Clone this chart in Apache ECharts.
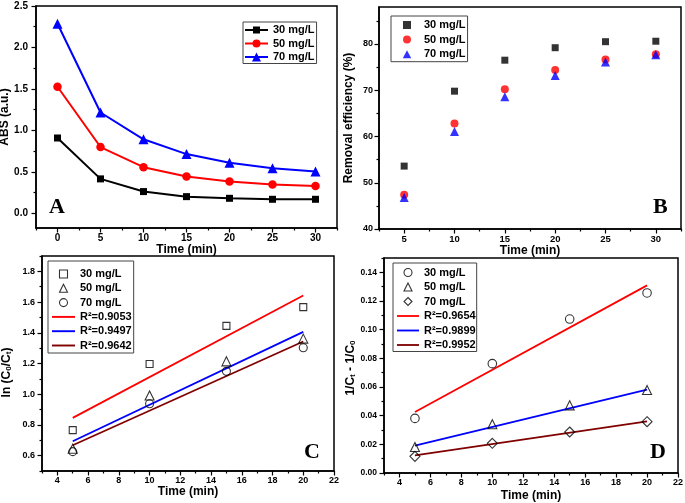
<!DOCTYPE html>
<html><head><meta charset="utf-8">
<script src="https://cdn.jsdelivr.net/npm/echarts@6/dist/echarts.min.js"></script>
<style>html,body{margin:0;padding:0;background:#fff}#c{width:685px;height:503px}</style>
</head><body><div id="c"></div>
<script>
// ---------- data ----------
const timeA = [0, 5, 10, 15, 20, 25, 30];
const absA30 = [0.909, 0.416, 0.263, 0.202, 0.182, 0.170, 0.170];
const absA50 = [1.527, 0.800, 0.557, 0.444, 0.384, 0.347, 0.331];
const absA70 = [2.286, 1.216, 0.893, 0.715, 0.610, 0.545, 0.505];

const timeB = [5, 10, 15, 20, 25, 30];
const remB30 = [53.6, 69.8, 76.5, 79.2, 80.5, 80.6];
const remB50 = [47.4, 62.8, 70.2, 74.4, 76.65, 77.8];
const remB70 = [46.8, 61.1, 68.6, 73.2, 76.1, 77.7];

const timeCD = [5, 10, 15, 20];
const lnC30 = [0.766, 1.197, 1.445, 1.567];
const lnC50 = [0.645, 0.992, 1.214, 1.362];
const lnC70 = [0.626, 0.938, 1.149, 1.303];
const fitTime = [5, 20];
const fitC30 = [0.846, 1.643];
const fitC50 = [0.694, 1.406];
const fitC70 = [0.668, 1.343];

const invD30 = [0.0381, 0.0763, 0.1074, 0.1256];
const invD50 = [0.0181, 0.0340, 0.0472, 0.0579];
const invD70 = [0.0116, 0.0207, 0.0286, 0.0358];
const fitD30 = [0.0426, 0.1309];
const fitD50 = [0.0191, 0.0581];
const fitD70 = [0.0123, 0.0360];

const concLabels = ['30 mg/L', '50 mg/L', '70 mg/L'];
const r2C = ['R²=0.9053', 'R²=0.9497', 'R²=0.9642'];
const r2D = ['R²=0.9654', 'R²=0.9899', 'R²=0.9952'];

// tick values
const tickAxMajor = [0, 5, 10, 15, 20, 25, 30];
const tickAxMinor = [-2.5, 2.5, 7.5, 12.5, 17.5, 22.5, 27.5, 32.5];
const tickAyMajor = [0, 0.5, 1.0, 1.5, 2.0, 2.5];
const tickAyMinor = [0.25, 0.75, 1.25, 1.75, 2.25];
const tickBxMajor = [5, 10, 15, 20, 25, 30];
const tickBxMinor = [2.5, 7.5, 12.5, 17.5, 22.5, 27.5, 32.5];
const tickByMajor = [40, 50, 60, 70, 80];
const tickByMinor = [45, 55, 65, 75, 85];
const tickCDxMajor = [4, 6, 8, 10, 12, 14, 16, 18, 20, 22];
const tickCDxMinor = [3, 5, 7, 9, 11, 13, 15, 17, 19, 21];
const tickCyMajor = [0.6, 0.8, 1.0, 1.2, 1.4, 1.6, 1.8];
const tickCyMinor = [0.5, 0.7, 0.9, 1.1, 1.3, 1.5, 1.7, 1.9];
const tickDyMajor = [0, 0.02, 0.04, 0.06, 0.08, 0.10, 0.12, 0.14];
const tickDyMinor = [0.01, 0.03, 0.05, 0.07, 0.09, 0.11, 0.13, 0.15];

// ---------- helpers ----------
const FONT = 'Liberation Sans, Arial, sans-serif';
const zip = (xs, ys) => xs.map((x, i) => [x, ys[i]]);

function axisPair(kind, gi, min, max, major, minor, o) {
  const main = {
    type: 'value', gridIndex: gi, min: min, max: max,
    position: kind === 'x' ? 'bottom' : 'left',
    axisLine: { show: true, onZero: false, lineStyle: { color: '#000', width: 1.5 } },
    axisTick: { show: true, customValues: major, length: o.tickLen || 4.5, lineStyle: { color: '#000', width: 1.2 } },
    axisLabel: { show: true, customValues: major, formatter: o.fmt, color: '#000', fontWeight: 'bold',
      fontSize: o.fs, fontFamily: FONT, margin: o.margin },
    splitLine: { show: false }, minorTick: { show: false },
    name: o.name, nameLocation: 'middle', nameGap: o.nameGap,
    nameTextStyle: Object.assign({ color: '#000', fontWeight: 'bold', fontSize: 12, fontFamily: FONT }, o.nameStyle || {})
  };
  const mn = {
    type: 'value', gridIndex: gi, min: min, max: max,
    position: kind === 'x' ? 'bottom' : 'left',
    axisLine: { show: false, onZero: false },
    axisTick: { show: true, customValues: minor, length: 2.5, lineStyle: { color: '#000', width: 1.2 } },
    axisLabel: { show: false }, splitLine: { show: false }
  };
  return [main, mn];
}

const grids = [
  { left: 36, top: 6, width: 301, height: 222 },
  { left: 379, top: 7, width: 302, height: 222 },
  { left: 42, top: 256, width: 292, height: 215 },
  { left: 384, top: 258, width: 294, height: 215 }
].map(g => Object.assign(g, { show: true, borderColor: '#000', borderWidth: 1.5, backgroundColor: 'transparent', outerBoundsMode: 'none', containLabel: false }));

const subRich = { sub: { fontSize: 8, fontWeight: 'bold', fontFamily: FONT, color: '#000', verticalAlign: 'bottom' } };

const xAxes = [].concat(
  axisPair('x', 0, -2.5, 32.5, tickAxMajor, tickAxMinor, { fmt: v => String(v), fs: 10, margin: 5, name: 'Time (min)', nameGap: 15 }),
  axisPair('x', 1, 2.5, 32.5, tickBxMajor, tickBxMinor, { fmt: v => String(v), fs: 9.5, margin: 5, name: 'Time (min)', nameGap: 16 }),
  axisPair('x', 2, 3, 22, tickCDxMajor, tickCDxMinor, { fmt: v => String(v), fs: 9, margin: 5, name: 'Time (min)', nameGap: 15 }),
  axisPair('x', 3, 3, 22, tickCDxMajor, tickCDxMinor, { fmt: v => String(v), fs: 9, margin: 5, name: 'Time (min)', nameGap: 17 })
);
const yAxes = [].concat(
  axisPair('y', 0, -0.176, 2.5, tickAyMajor, tickAyMinor, { fmt: v => v.toFixed(1), fs: 10, margin: 8, name: 'ABS (a.u.)', nameGap: 21 }),
  axisPair('y', 1, 40, 88, tickByMajor, tickByMinor, { fmt: v => String(v), fs: 9, margin: 6, name: 'Removal efficiency (%)', nameGap: 24 }),
  axisPair('y', 2, 0.5, 1.9, tickCyMajor, tickCyMinor, { fmt: v => v.toFixed(1), fs: 9, margin: 7, name: 'ln (C{sub|0}/C{sub|t})', nameGap: 29,
    nameStyle: { rich: subRich, padding: [0, 18, 0, 0] } }),
  axisPair('y', 3, 0, 0.15, tickDyMajor, tickDyMinor, { fmt: v => v.toFixed(2), fs: 8.5, margin: 7, name: '1/C{sub|t} - 1/C{sub|0}', nameGap: 26,
    nameStyle: { rich: subRich, padding: [0, 5, 0, 0] } })
);

// legend icon shapes (keep their aspect inside the legend item box)
const ICON = {
  lineRect: 'path://M0,4L23,4L23,6L0,6ZM8,1.5L15,1.5L15,8.5L8,8.5Z',
  lineCircle: 'path://M0,4L23,4L23,6L0,6ZM15.5,5A4,4,0,1,1,7.5,5A4,4,0,1,1,15.5,5Z',
  lineTriangle: 'path://M0,4L23,4L23,6L0,6ZM11.5,0.5L16,9.5L7,9.5Z',
  wideRect: 'path://M0,0L0,0ZM8,0L16,0L16,8L8,8ZM24,8L24,8Z',
  wideCircle: 'path://M0,0L0,0ZM16.25,4A4.25,4.25,0,1,1,7.75,4A4.25,4.25,0,1,1,16.25,4ZM24,8L24,8Z',
  wideTriangle: 'path://M0,0L0,0ZM12,-0.5L16.75,8.5L7.25,8.5ZM24,8L24,8Z',
  rect: 'path://M0,0L8,0L8,8L0,8Z',
  triangle: 'path://M4.5,0L9,9L0,9Z',
  diamond: 'path://M4.5,0L9,4.5L4.5,9L0,4.5Z',
  circle: 'circle',
  line: 'path://M0,0L24,0L24,2L0,2Z'
};

const labelOf = {};
const iconOf = {};
const series = [];
function lineS(id, label, gi, xs, ys, color, symbol, size, icon) {
  labelOf[id] = label; iconOf[id] = icon;
  series.push({ name: id, type: 'line', xAxisIndex: 2 * gi, yAxisIndex: 2 * gi, data: zip(xs, ys),
    color: color, symbol: symbol, symbolSize: size, showSymbol: true,
    lineStyle: { color: color, width: 2 }, itemStyle: { color: color }, z: 3 });
}
function scatterS(id, label, gi, xs, ys, color, symbol, size, hollow, icon) {
  labelOf[id] = label; iconOf[id] = icon || ICON[symbol];
  series.push({ name: id, type: 'scatter', xAxisIndex: 2 * gi, yAxisIndex: 2 * gi, data: zip(xs, ys),
    symbol: symbol, symbolSize: size,
    itemStyle: hollow ? { color: 'rgba(255,255,255,0)', borderColor: color, borderWidth: 1.1 } : { color: color },
    z: 4 });
}
function fitS(id, label, gi, ys, color) {
  labelOf[id] = label; iconOf[id] = ICON.line;
  series.push({ name: id, type: 'line', xAxisIndex: 2 * gi, yAxisIndex: 2 * gi, data: zip(fitTime, ys),
    color: color, symbol: 'none', lineStyle: { color: color, width: 1.8 }, z: 2 });
}

lineS('A30', concLabels[0], 0, timeA, absA30, '#000000', 'rect', 7, ICON.lineRect);
lineS('A50', concLabels[1], 0, timeA, absA50, '#ff0000', 'circle', 8.5, ICON.lineCircle);
lineS('A70', concLabels[2], 0, timeA, absA70, '#0000ff', 'triangle', 10, ICON.lineTriangle);

scatterS('B30', concLabels[0], 1, timeB, remB30, '#000000', 'rect', 7, false, ICON.wideRect);
scatterS('B50', concLabels[1], 1, timeB, remB50, '#ff0000', 'circle', 8, false, ICON.wideCircle);
scatterS('B70', concLabels[2], 1, timeB, remB70, '#0000ff', 'triangle', 9, false, ICON.wideTriangle);

scatterS('C30', concLabels[0], 2, timeCD, lnC30, '#000000', 'rect', 7, true);
scatterS('C50', concLabels[1], 2, timeCD, lnC50, '#000000', 'triangle', 9, true);
scatterS('C70', concLabels[2], 2, timeCD, lnC70, '#000000', 'circle', 8, true);
fitS('CF30', r2C[0], 2, fitC30, '#ff0000');
fitS('CF50', r2C[1], 2, fitC50, '#0000ff');
fitS('CF70', r2C[2], 2, fitC70, '#800000');

scatterS('D30', concLabels[0], 3, timeCD, invD30, '#000000', 'circle', 8.5, true);
scatterS('D50', concLabels[1], 3, timeCD, invD50, '#000000', 'triangle', 9, true);
scatterS('D70', concLabels[2], 3, timeCD, invD70, '#000000', 'diamond', 10, true);
fitS('DF30', r2D[0], 3, fitD30, '#ff0000');
fitS('DF50', r2D[1], 3, fitD50, '#0000ff');
fitS('DF70', r2D[2], 3, fitD70, '#800000');

function legend(ids, left, top, padding, iw, ih, gap, iconBorder) {
  return {
    show: true, orient: 'vertical', left: left, top: top, padding: padding,
    itemWidth: iw, itemHeight: ih, itemGap: gap, symbolKeepAspect: true,
    backgroundColor: '#fff', borderColor: '#444', borderWidth: 1, borderRadius: 0,
    selectedMode: false,
    itemStyle: { borderWidth: iconBorder },
    data: ids.map(id => iconOf[id] === ICON.line
      ? { name: id, icon: iconOf[id], itemStyle: { borderWidth: 0 } }
      : { name: id, icon: iconOf[id] }),
    formatter: n => labelOf[n],
    textStyle: { color: '#000', fontWeight: 'bold', fontSize: 11, fontFamily: FONT }
  };
}

const legends = [
  legend(['A30', 'A50', 'A70'], 243, 22, [2.5, 2, 1, 2], 23, 10, 2.5, 0),
  legend(['B30', 'B50', 'B70'], 391, 16, [3.5, 2, 2, 4], 24, 8, 3.6, 0),
  legend(['C30', 'C50', 'C70', 'CF30', 'CF50', 'CF70'], 48, 261, [7.5, 2, 2, 4], 23, 8, 3.3, 1.1),
  legend(['D30', 'D50', 'D70', 'DF30', 'DF50', 'DF70'], 393, 263, [4, 1, 1, 4], 22, 8, 3.5, 1.1)
];

const letterFont = 'bold 22px "Liberation Serif", "Times New Roman", serif';
const letters = [['A', 49, 207.5], ['B', 653, 207.5], ['C', 304, 452.5], ['D', 650, 452]];

const chart = echarts.init(document.getElementById('c'), null, { renderer: 'canvas' });
chart.setOption({
  animation: false,
  backgroundColor: '#fff',
  grid: grids,
  xAxis: xAxes,
  yAxis: yAxes,
  legend: legends,
  series: series,
  graphic: letters.map(l => ({ type: 'text', x: l[1], y: l[2], z: 100,
    style: { text: l[0], font: letterFont, fill: '#000', verticalAlign: 'middle', align: 'left' } }))
});
</script></body></html>
